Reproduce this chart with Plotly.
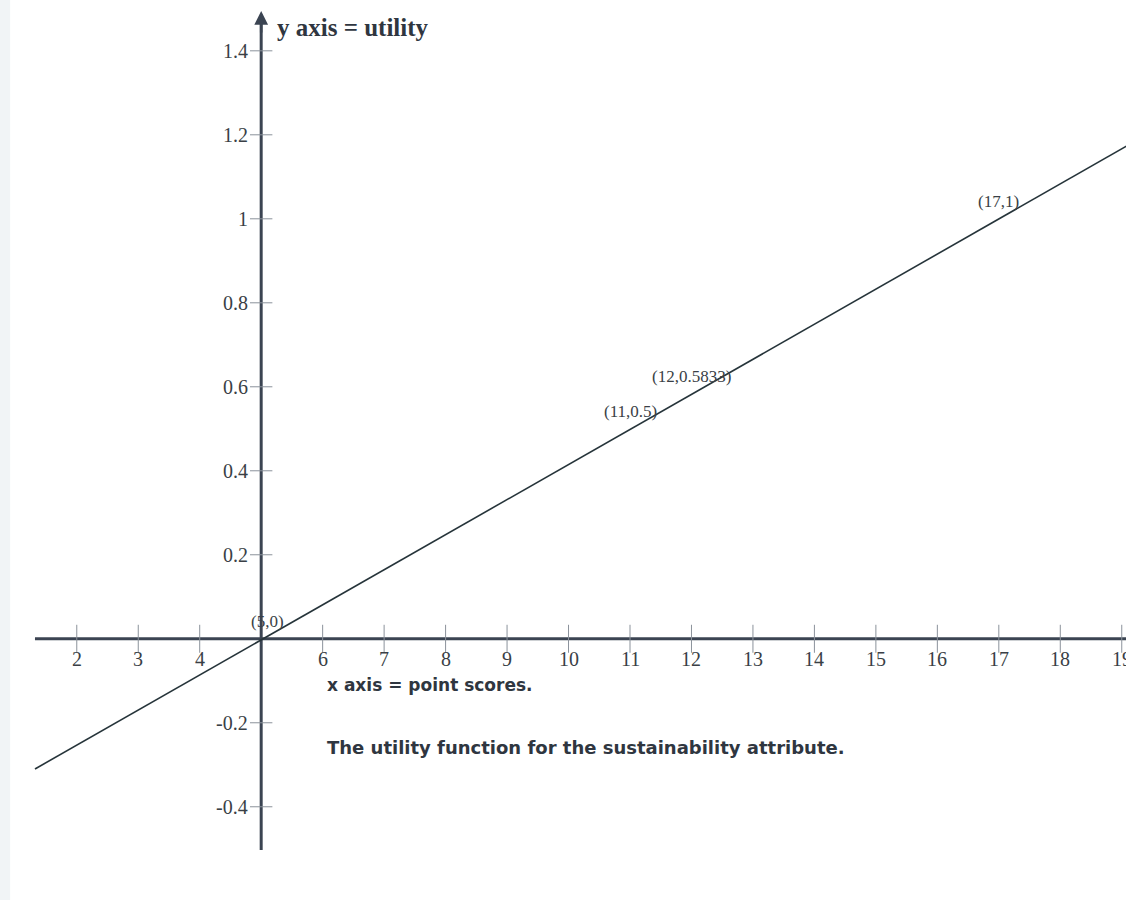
import plotly.graph_objects as go

# ---- data ----
x_ticks = [2, 3, 4, 6, 7, 8, 9, 10, 11, 12, 13, 14, 15, 16, 17, 18, 19]
x_tick_labels = [str(v) for v in x_ticks]
y_ticks = [-0.4, -0.2, 0.2, 0.4, 0.6, 0.8, 1, 1.2, 1.4]
y_tick_labels = ["-0.4", "-0.2", "0.2", "0.4", "0.6", "0.8", "1", "1.2", "1.4"]

line_x = [1.32, 19.1]           # visible ends of the utility line
line_u = [-0.31, 1.175]

point_x = [5, 11, 12, 17]
point_u = [0, 0.5, 0.5833, 1]
point_labels = ["(5,0)", "(11,0.5)", "(12,0.5833)", "(17,1)"]

x_axis_span = [1.32, 19.2]
y_axis_span = [-0.503, 1.47]
origin_x, origin_u = 5, 0

AXIS_COLOR = "#3b4452"
TEXT_COLOR = "#3a3f46"
SERIF = "Liberation Serif, Times New Roman, serif"
SANS = "DejaVu Sans, Verdana, sans-serif"

fig = go.Figure()

# faint scanner edge on the left
fig.add_shape(type="rect", xref="paper", yref="paper", x0=0, x1=0.009, y0=0, y1=1,
              fillcolor="#f1f4f6", line=dict(width=0), layer="below")

# utility line
fig.add_trace(go.Scatter(x=line_x, y=line_u, mode="lines",
                         line=dict(color="#26343a", width=1.6),
                         hoverinfo="skip", showlegend=False))

# axis lines
fig.add_shape(type="line", xref="x", yref="y",
              x0=x_axis_span[0], x1=x_axis_span[1], y0=origin_u, y1=origin_u,
              line=dict(color=AXIS_COLOR, width=3), layer="below")
fig.add_shape(type="line", xref="x", yref="y",
              x0=origin_x, x1=origin_x, y0=y_axis_span[0], y1=y_axis_span[1],
              line=dict(color=AXIS_COLOR, width=3), layer="below")

# arrow head on the y axis
fig.add_annotation(x=origin_x, y=1.495, ax=origin_x, ay=1.44, xref="x", yref="y",
                   axref="x", ayref="y", showarrow=True, arrowhead=2,
                   arrowsize=1.1, arrowwidth=2.5, arrowcolor=AXIS_COLOR, text="")

# tick marks
fig.add_trace(go.Scatter(x=x_ticks, y=[origin_u] * len(x_ticks), mode="markers",
                         marker=dict(symbol="line-ns", size=20,
                                     line=dict(color="#8b929b", width=1)),
                         hoverinfo="skip", showlegend=False))
fig.add_trace(go.Scatter(x=[origin_x] * len(y_ticks), y=y_ticks, mode="markers",
                         marker=dict(symbol="line-ew", size=16,
                                     line=dict(color="#8b929b", width=1)),
                         hoverinfo="skip", showlegend=False))

# tick labels
for xv, lab in zip(x_ticks, x_tick_labels):
    fig.add_annotation(x=xv, y=origin_u, xref="x", yref="y", text=lab,
                       showarrow=False, yanchor="top", xanchor="center", yshift=-7,
                       font=dict(family=SERIF, size=20, color=TEXT_COLOR))
for yv, lab in zip(y_ticks, y_tick_labels):
    fig.add_annotation(x=origin_x, y=yv, xref="x", yref="y", text=lab,
                       showarrow=False, xanchor="right", yanchor="middle", xshift=-11,
                       font=dict(family=SERIF, size=20, color=TEXT_COLOR))

# point labels
for xv, uv, lab in zip(point_x, point_u, point_labels):
    fig.add_annotation(x=xv, y=uv, xref="x", yref="y", text=lab, showarrow=False,
                       xanchor="center", yanchor="bottom", yshift=6,
                       xshift=6 if xv == 5 else 0,
                       font=dict(family=SERIF, size=17, color=TEXT_COLOR))

# axis titles / caption
fig.add_annotation(x=5.23, y=1.455, xref="x", yref="y", text="<b>y axis = utility</b>",
                   showarrow=False, xanchor="left", yanchor="middle",
                   font=dict(family=SERIF, size=25, color="#2f3640"))
fig.add_annotation(x=6.04, y=-0.11, xref="x", yref="y", text="<b>x axis = point scores.</b>",
                   showarrow=False, xanchor="left", yanchor="middle",
                   font=dict(family=SANS, size=17, color="#2f3640"))
fig.add_annotation(x=6.04, y=-0.26, xref="x", yref="y",
                   text="<b>The utility function for the sustainability attribute.</b>",
                   showarrow=False, xanchor="left", yanchor="middle",
                   font=dict(family=SANS, size=18, color="#2f3640"))

fig.update_layout(
    width=1126, height=900,
    margin=dict(l=0, r=0, t=0, b=0),
    paper_bgcolor="white", plot_bgcolor="white",
    xaxis=dict(range=[0.751, 19.069], visible=False, fixedrange=True),
    yaxis=dict(range=[-0.622, 1.521], visible=False, fixedrange=True),
    showlegend=False,
)

fig.write_html("out.html", config={"displayModeBar": False},
               post_script="document.body.style.margin='0';")
